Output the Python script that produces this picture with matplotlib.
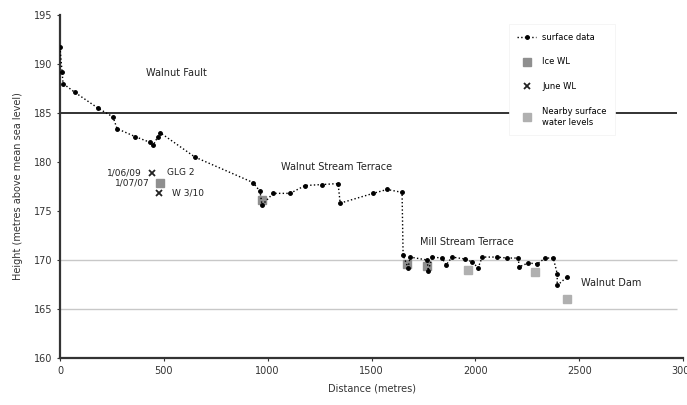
import matplotlib
matplotlib.use("Agg")
import matplotlib.pyplot as plt

# surface profile (distance m, height m)
surf_x = [0, 10, 15, 72, 183, 255, 275, 361, 434, 448, 472, 482, 650, 930, 963, 973,
          1026, 1108, 1180, 1262, 1339, 1349, 1508, 1575, 1647,
          1652, 1676, 1686, 1768, 1773, 1792, 1840, 1859, 1888, 1951, 1985, 2013,
          2033, 2105, 2153, 2206, 2211, 2254, 2298, 2336, 2375, 2394, 2394, 2442]
surf_y = [191.7, 189.2, 188.0, 187.1, 185.5, 184.6, 183.4, 182.6, 182.0, 181.7, 182.6, 183.0,
          180.5, 177.9, 177.0, 175.6,
          176.8, 176.8, 177.6, 177.7, 177.8, 175.8, 176.8, 177.2, 176.9,
          170.5, 169.2, 170.3, 170.0, 168.9, 170.3, 170.2, 169.5, 170.3, 170.1, 169.8, 169.2,
          170.3, 170.3, 170.2, 170.2, 169.3, 169.7, 169.6, 170.2, 170.2, 168.6, 167.4, 168.3]

ice_x = [482, 973, 1671, 1768]
ice_y = [177.9, 176.1, 169.6, 169.4]

june_x = [443, 477]
june_y = [178.9, 176.8]

near_x = [1965, 2288, 2442]
near_y = [169.0, 168.8, 166.0]

yticks = [160, 165, 170, 175, 180, 185, 190, 195]
xticks = [0, 500, 1000, 1500, 2000, 2500, 3000]

fig = plt.figure(figsize=(6.87, 4.05), dpi=100)
ax = fig.add_axes([0.0873, 0.116, 0.907, 0.847])

# reference lines
ax.hlines([165, 170], 0, 2972, colors='#c8c8c8', linewidth=1.0, zorder=1)
ax.hlines(185, 0, 2972, colors='#222222', linewidth=1.3, zorder=1)

ax.plot(surf_x, surf_y, color='black', linestyle=':', linewidth=1.0,
        marker='o', markersize=2.5, label='surface data', zorder=3)
ax.plot(ice_x, ice_y, linestyle='none', marker='s', markersize=6,
        color='#8f8f8f', label='Ice WL', zorder=2)
ax.plot(june_x, june_y, linestyle='none', marker='x', markersize=5,
        color='#222222', markeredgewidth=1.3, label='June WL', zorder=3)
ax.plot(near_x, near_y, linestyle='none', marker='s', markersize=6,
        color='#b0b0b0', label='Nearby surface\nwater levels', zorder=2)

txt = dict(fontsize=7, color='#222222')
ax.text(560, 189.1, 'Walnut Fault', ha='center', va='center', **txt)
ax.text(1330, 179.5, 'Walnut Stream Terrace', ha='center', va='center', **txt)
ax.text(1957, 171.8, 'Mill Stream Terrace', ha='center', va='center', **txt)
ax.text(2655, 167.7, 'Walnut Dam', ha='center', va='center', **txt)
ax.text(395, 178.9, '1/06/09', ha='right', va='center', fontsize=6.5, color='#222222')
ax.text(515, 178.9, 'GLG 2', ha='left', va='center', fontsize=6.5, color='#222222')
ax.text(434, 177.9, '1/07/07', ha='right', va='center', fontsize=6.5, color='#222222')
ax.text(540, 176.8, 'W 3/10', ha='left', va='center', fontsize=6.5, color='#222222')

ax.set_xlim(0, 3000)
ax.set_ylim(160, 195)
ax.set_xticks(xticks)
ax.set_yticks(yticks)
ax.tick_params(labelsize=7, length=2, colors='#333333')

for side in ['top', 'right']:
    ax.spines[side].set_visible(False)
for side in ['left', 'bottom']:
    ax.spines[side].set_linewidth(1.6)
    ax.spines[side].set_color('#333333')

ax.set_xlabel('Distance (metres)', fontsize=7, color='#333333', labelpad=6)
ax.set_ylabel('Height (metres above mean sea level)', fontsize=7, color='#333333', labelpad=8)

leg = ax.legend(loc='upper left', bbox_to_anchor=(0.714, 0.985), fontsize=6,
                frameon=True, fancybox=False, edgecolor='#f2f2f2', framealpha=1,
                handlelength=2.2, labelspacing=1.9, borderpad=1.0)
leg.get_frame().set_linewidth(0.5)

fig.savefig('out.png', dpi=100)
